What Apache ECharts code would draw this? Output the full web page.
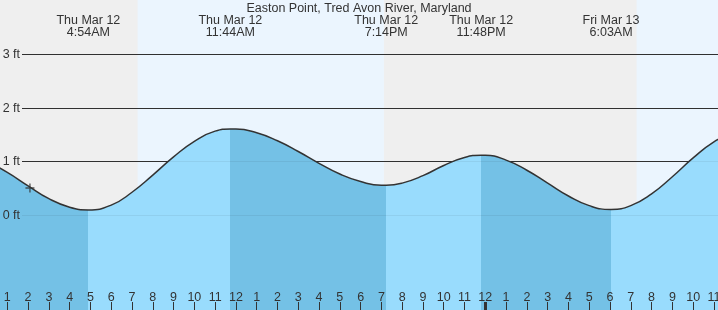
<!DOCTYPE html>
<html><head><meta charset="utf-8">
<script src="https://cdn.jsdelivr.net/npm/echarts@6/dist/echarts.min.js"></script>
<style>html,body{margin:0;padding:0;background:#efefef}#c{width:718px;height:310px}</style>
</head><body><div id="c"></div>
<script>
// ---- data ----
const TITLE = 'Easton Point, Tred Avon River, Maryland';
// hours since Thu Mar 12 00:00
const HOURS = [0, 1, 2, 3, 4, 4.9, 6, 7, 8, 9, 10, 11, 11.733, 12, 13, 14, 15, 16, 17, 18, 19, 19.233,
  20, 21, 22, 23, 23.8, 24, 25, 26, 27, 28, 29, 30.05, 31, 32, 33, 34, 35, 36];
const LEVELS_FT = [1.01, 0.80, 0.55, 0.31, 0.15, 0.10, 0.19, 0.43, 0.75, 1.09, 1.38, 1.57, 1.61, 1.61, 1.54, 1.39, 1.19, 0.97, 0.77, 0.63, 0.56, 0.56,
  0.60, 0.74, 0.93, 1.08, 1.12, 1.12, 1.03, 0.84, 0.60, 0.36, 0.18, 0.11, 0.18, 0.40, 0.72, 1.07, 1.37, 1.56];
const EXTREME_HOURS = [4.9, 11.733, 19.233, 23.8, 30.05];
const EXTREME_LABELS = ['Thu Mar 12\n4:54AM', 'Thu Mar 12\n11:44AM', 'Thu Mar 12\n7:14PM', 'Thu Mar 12\n11:48PM', 'Fri Mar 13\n6:03AM'];
const SUNRISE_HOURS = [7.27, 31.28];
const SUNSET_HOURS = [19.12, 'max'];
const NOW_POINT = [2.09, 0.51];
const Y_LINES_FT = [0, 1, 2, 3];
const HOUR_TICKS = [1,2,3,4,5,6,7,8,9,10,11,12,13,14,15,16,17,18,19,20,21,22,23,24,25,26,27,28,29,30,31,32,33,34,35];
const HOUR_LABELS = ['1','2','3','4','5','6','7','8','9','10','11','12','1','2','3','4','5','6','7','8','9','10','11','12','1','2','3','4','5','6','7','8','9','10','11'];
const MIDNIGHT_TICKS = [24];

// ---- view ----
const X_MIN = 0.649, X_MAX = 35.196;
const Y_MIN = -1.767, Y_MAX = 4.017;
const FALL = '#74c1e6', RISE = '#99dcfd';
const FONT = 'Liberation Sans';
const TXT = '#333';

const tide = HOURS.map((h, i) => [h, LEVELS_FT[i]]);
const pieces = [];
let prev = null;
EXTREME_HOURS.forEach((e, i) => {
  const p = { color: i % 2 === 0 ? FALL : RISE, lt: e };
  if (prev !== null) p.gte = prev;
  pieces.push(p); prev = e;
});
pieces.push({ gte: prev, color: EXTREME_HOURS.length % 2 === 0 ? FALL : RISE });

const chart = echarts.init(document.getElementById('c'), null, { renderer: 'canvas' });
chart.setOption({
  animation: false,
  backgroundColor: '#efefef',
  title: { text: TITLE, left: 'center', top: 2, padding: 0,
    textStyle: { fontFamily: FONT, fontSize: 12.5, fontWeight: 'normal', color: TXT, lineHeight: 14 } },
  grid: [
    { left: 0, right: 0, top: 0, bottom: 0, containLabel: false, outerBoundsMode: 'none' },
    { left: 22, right: 0, top: 0.9, bottom: -12.5, containLabel: false, outerBoundsMode: 'none' }
  ],
  xAxis: [
    { gridIndex: 0, type: 'value', min: X_MIN, max: X_MAX, position: 'bottom', z: 10,
      axisLine: { show: false, onZero: false }, splitLine: { show: false },
      axisTick: { show: true, inside: true, length: 8, customValues: HOUR_TICKS, lineStyle: { color: TXT, width: 1 } },
      axisLabel: { show: true, inside: true, margin: 6, customValues: HOUR_TICKS,
        formatter: v => HOUR_LABELS[HOUR_TICKS.indexOf(Math.round(v))],
        fontFamily: FONT, fontSize: 12.5, color: TXT } },
    { gridIndex: 0, type: 'value', min: X_MIN, max: X_MAX, position: 'top', z: 10,
      axisLine: { show: false, onZero: false }, axisTick: { show: false }, splitLine: { show: false },
      axisLabel: { show: true, inside: true, margin: 14, customValues: EXTREME_HOURS,
        formatter: v => { let bi = 0; EXTREME_HOURS.forEach((e, i) => { if (Math.abs(e - v) < Math.abs(EXTREME_HOURS[bi] - v)) bi = i; }); return EXTREME_LABELS[bi]; },
        fontFamily: FONT, fontSize: 12.5, color: TXT, lineHeight: 12.5, align: 'center' } },
    { gridIndex: 0, type: 'value', min: X_MIN, max: X_MAX, position: 'bottom', z: 11,
      axisLine: { show: false, onZero: false }, splitLine: { show: false }, axisLabel: { show: false },
      axisTick: { show: true, inside: true, length: 8, customValues: MIDNIGHT_TICKS, lineStyle: { color: TXT, width: 3 } } },
    { gridIndex: 1, type: 'value', min: 0, max: 1, show: false }
  ],
  yAxis: [
    { gridIndex: 0, type: 'value', min: Y_MIN, max: Y_MAX, show: false },
    { gridIndex: 1, type: 'value', min: -2, max: 4, interval: 1, z: 2,
      axisLine: { show: false }, axisTick: { show: false }, axisLabel: { show: false },
      splitLine: { show: true, showMinLine: false, showMaxLine: false, lineStyle: { color: TXT, width: 1 } } }
  ],
  visualMap: { show: false, type: 'piecewise', seriesIndex: 1, dimension: 0, pieces: pieces },
  series: [
    { type: 'line', xAxisIndex: 0, yAxisIndex: 0, data: [], z: 0, silent: true,
      markArea: { silent: true, itemStyle: { color: '#ebf5fe' },
        data: SUNRISE_HOURS.map((s, i) => [{ xAxis: s }, { xAxis: SUNSET_HOURS[i] }]) } },
    { type: 'line', xAxisIndex: 0, yAxisIndex: 0, data: tide, smooth: true, symbol: 'none', z: 3, silent: true,
      lineStyle: { width: 0 }, areaStyle: { opacity: 1, origin: 'start' } },
    { type: 'line', xAxisIndex: 0, yAxisIndex: 0, data: tide, smooth: true, symbol: 'none', z: 4, silent: true,
      lineStyle: { color: '#333', width: 1.5 } },
    { type: 'line', xAxisIndex: 3, yAxisIndex: 1, data: [], z: 10, silent: true,
      markLine: { silent: true, symbol: ['none', 'none'], lineStyle: { color: 'rgba(0,0,0,0.06)', width: 1, type: 'solid' },
        label: { show: true, position: 'start', distance: 2, formatter: p => p.value + ' ft', fontFamily: FONT, fontSize: 12.5, color: TXT },
        data: Y_LINES_FT.map(v => ({ yAxis: v })) } },
    { type: 'scatter', xAxisIndex: 0, yAxisIndex: 0, data: [NOW_POINT], z: 12, silent: true,
      symbol: 'path://M4.25,0H5.75V4.25H10V5.75H5.75V10H4.25V5.75H0V4.25H4.25Z', symbolSize: 9,
      itemStyle: { color: '#333' } }
  ]
});
</script></body></html>
